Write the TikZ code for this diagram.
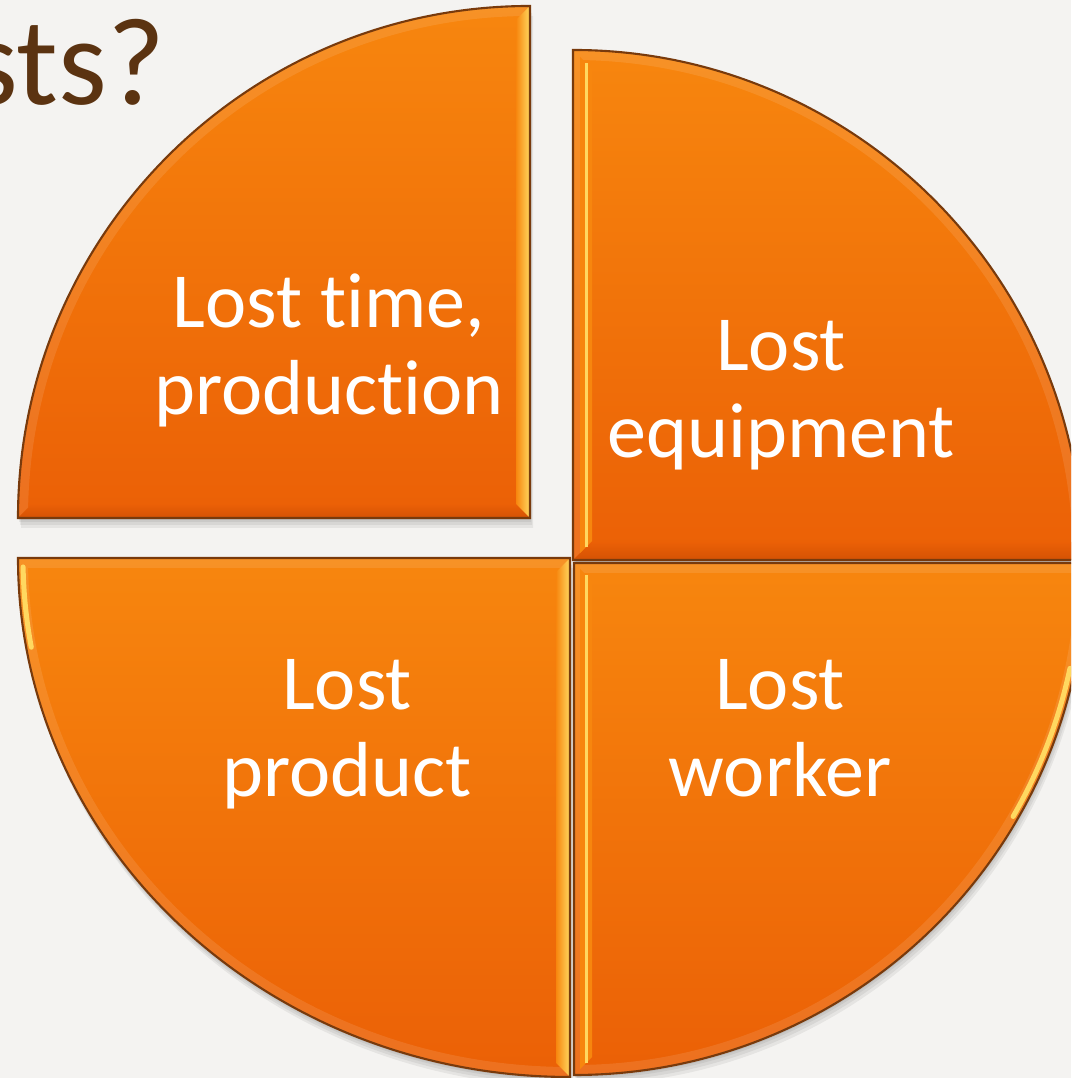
\documentclass[tikz,border=0pt]{standalone}
\usepackage{fontspec}
\setmainfont{Carlito}[Ligatures={NoCommon}]
\definecolor{paper}{RGB}{244,243,241}
\definecolor{pietop}{RGB}{247,134,14}
\definecolor{piebot}{RGB}{235,96,6}
\definecolor{piedeep}{RGB}{212,82,4}
\definecolor{pieedge}{RGB}{120,58,12}
\definecolor{piegold}{RGB}{255,216,96}
\definecolor{titlebrown}{RGB}{91,51,17}

% the four slices, top-left one pulled out
\newcommand{\pathtl}{(5.30,5.60) -- (0.18,5.60) arc[start angle=180, end angle=90, radius=5.12] -- cycle}
\newcommand{\pathtr}{(5.73,5.18) -- (5.73,10.28) arc[start angle=90, end angle=0, radius=5.10] -- cycle}
\newcommand{\pathbl}{(5.70,5.20) -- (0.18,5.20) arc[start angle=180, end angle=270, x radius=5.52, y radius=5.19] -- cycle}
\newcommand{\pathbr}{(5.74,5.15) -- (5.74,0.03) arc[start angle=270, end angle=360, radius=5.12] -- cycle}

\begin{document}
\begin{tikzpicture}[
  halo/.style={fill=black, fill opacity=0.06},
  slice/.style={top color=pietop, bottom color=piebot},
  outline/.style={draw=pieedge, line width=0.6pt},
  gloss/.style={left color=pietop, right color=piegold},
  glint/.style={left color=pietop, middle color=piegold, right color=pietop},
  lbl/.style={text=white, align=center, anchor=base, inner sep=0pt, font=\fontsize{22.2}{25}\selectfont}
]
  \fill[paper] (0,0) rectangle (10.71,10.78);
  \useasboundingbox (0,0) rectangle (10.71,10.78);
  \clip (0,0) rectangle (10.71,10.78);

  % soft shadow
  \foreach \p in {\pathtl,\pathtr,\pathbl,\pathbr}
    \foreach \s in {0.02,0.04,0.07,0.10}
      \fill[halo, xshift=0.3*\s cm, yshift=-\s cm] \p;

  % slices with a faint inner rim
  \foreach \p in {\pathtl,\pathtr,\pathbl,\pathbr} {
    \shade[slice] \p;
    \begin{scope}
      \clip \p;
      \draw[line width=0.20cm, white, opacity=0.10] \p;
    \end{scope}
  }

  % bevel: darker bottom edges
  \shade[top color=piebot, bottom color=piedeep] (0.18,5.60) -- (5.30,5.60) -- (5.16,5.74) -- (0.32,5.74) -- cycle;
  \shade[top color=piebot, bottom color=piedeep] (5.73,5.18) -- (10.83,5.18) -- (10.83,5.36) -- (5.91,5.36) -- cycle;

  % bevel: bright vertical edges
  \shade[gloss] (5.16,5.74) -- (5.30,5.60) -- (5.30,10.72) -- (5.16,10.58) -- cycle;
  \shade[gloss] (5.56,5.06) -- (5.70,5.20) -- (5.70,0.01) -- (5.56,0.15) -- cycle;
  \shade[glint] (5.80,5.25) -- (5.92,5.37) -- (5.92,10.09) -- (5.80,10.21) -- cycle;
  \shade[glint] (5.80,5.09) -- (5.92,4.97) -- (5.92,0.21) -- (5.80,0.09) -- cycle;
  \draw[piegold, line width=0.03cm] (5.86,5.31) -- (5.86,10.15);
  \draw[piegold, line width=0.03cm] (5.86,5.03) -- (5.86,0.15);

  % glints on the curved edges
  \draw[piegold, line width=0.05cm, line cap=round] ([shift={(-12:5.07)}]5.74,5.15) arc[start angle=-12, end angle=-30, radius=5.07];
  \draw[piegold, line width=0.05cm, line cap=round] ([shift={(181:5.47 and 5.14)}]5.70,5.20) arc[start angle=181, end angle=190, x radius=5.47, y radius=5.14];

  \foreach \p in {\pathtl,\pathtr,\pathbl,\pathbr}
    \draw[outline] \p;

  % Labels (base is the last line)
  \node[lbl] (timeprod) at (3.29,6.63) {Lost time,\\production};
  \node[lbl] (equip) at (7.81,6.20) {Lost\\equipment};
  \node[lbl] (product) at (3.47,2.81) {Lost\\product};
  \node[lbl] (worker) at (7.80,2.81) {Lost\\worker};

  \node[anchor=base east, inner sep=0pt, text=titlebrown, font=\fontsize{35.5}{42}\selectfont] (title) at (1.66,9.73) {sts?};
\end{tikzpicture}
\end{document}
